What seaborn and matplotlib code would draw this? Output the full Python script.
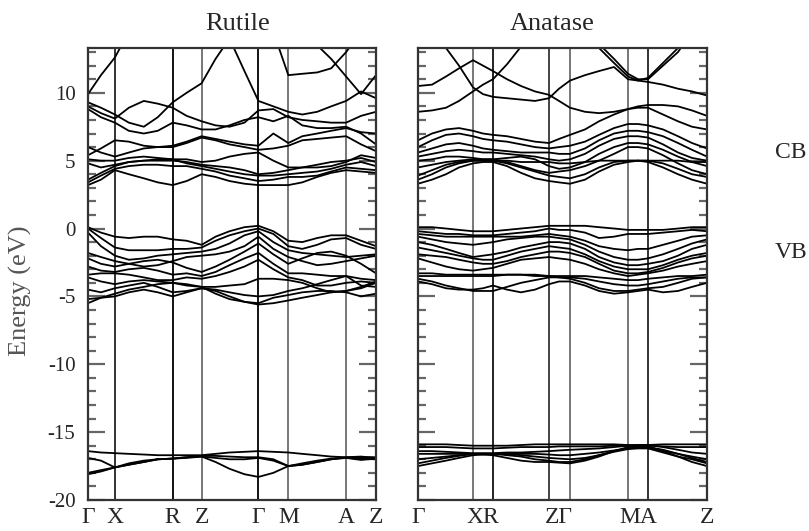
import matplotlib
matplotlib.use("Agg")
import matplotlib.pyplot as plt
import numpy as np
import pandas as pd
import seaborn as sns
from matplotlib.ticker import MultipleLocator

sns.set_theme(style="white")
plt.rcParams["font.family"] = ["Liberation Serif", "DejaVu Serif"]
plt.rcParams["axes.unicode_minus"] = False

# ---------------- k-paths ----------------
rutile_labels = ["Γ", "X", "R", "Z", "Γ", "M", "A", "Z"]
rutile_ticks = [0, 27, 85, 114, 171, 201, 259, 289]
rutile_k = [0, 13, 27, 41, 56, 70, 85, 99, 114, 128, 142, 157, 171,
            186, 201, 215, 230, 244, 259, 274, 289]

anatase_ticks = [0, 55, 75, 131, 152, 210, 230, 289]
anatase_label_pos = [0, 65, 141, 220, 289]
anatase_labels = ["Γ", "XR", "ZΓ", "MA", "Z"]
anatase_k = [0, 14, 28, 41, 55, 65, 75, 89, 103, 117, 131, 141, 152,
             167, 181, 196, 210, 220, 230, 245, 260, 274, 289]

# ---------------- rutile bands (eV) ----------------
rutile_cb = [
    [3.2, 3.6, 4.3, 4.0, 3.7, 3.4, 3.2, 3.5, 4.0, 3.8, 3.5, 3.3, 3.2, 3.2, 3.2, 3.4, 3.8, 4.1, 4.3, 4.2, 4.1],
    [3.4, 3.9, 4.4, 4.6, 4.7, 4.7, 4.6, 4.6, 4.4, 4.2, 3.9, 3.7, 3.5, 3.6, 3.8, 3.8, 3.9, 4.2, 4.5, 4.4, 4.3],
    [3.6, 4.1, 4.6, 4.9, 5.0, 5.1, 5.1, 4.8, 4.6, 4.4, 4.2, 4.0, 3.9, 3.9, 4.0, 4.1, 4.2, 4.4, 4.7, 4.9, 4.6],
    [4.8, 4.5, 4.7, 4.9, 5.0, 5.0, 5.0, 4.9, 4.7, 4.6, 4.5, 4.3, 4.0, 4.1, 4.3, 4.5, 4.7, 4.9, 5.0, 5.2, 4.9],
    [5.1, 5.0, 5.0, 5.2, 5.3, 5.2, 5.1, 5.1, 4.9, 5.0, 5.3, 5.5, 5.6, 5.0, 4.5, 4.5, 4.5, 4.6, 4.9, 5.4, 5.2],
    [5.4, 5.9, 6.5, 6.4, 6.1, 6.0, 6.0, 6.3, 6.7, 6.5, 6.2, 6.0, 5.8, 5.9, 6.1, 6.5, 6.6, 6.7, 6.8, 6.2, 5.7],
    [6.0, 5.6, 5.3, 5.6, 5.9, 6.0, 6.1, 6.4, 6.8, 6.6, 6.4, 6.2, 6.1, 7.0, 6.3, 6.8, 7.0, 7.2, 7.4, 7.1, 7.0],
    [8.8, 8.2, 7.8, 7.2, 7.0, 7.2, 7.8, 7.6, 7.3, 7.3, 7.6, 8.0, 8.2, 7.9, 8.3, 7.6, 7.4, 7.4, 7.5, 7.0, 6.2],
    [9.0, 8.5, 8.1, 8.9, 9.4, 9.2, 8.9, 8.3, 7.9, 7.6, 7.5, 7.8, 8.7, 8.8, 8.2, 8.0, 7.9, 7.8, 7.8, 8.3, 8.6],
    [9.3, 8.9, 8.4, 7.8, 7.5, 8.2, 9.3, 10.0, 10.7, 12.5, 14.0, 11.6, 9.4, 9.0, 8.6, 8.4, 8.6, 9.0, 9.4, 10.1, 9.6],
    [9.9, 11.3, 12.6, 14.5, 16, 16, 16, 16, 16, 16, 16, 16, 16, 14.5, 11.3, 11.4, 11.5, 11.8, 13.0, 14.5, 16],
    [15, 15, 15, 15, 15, 15, 15, 15, 15, 15, 15, 15, 15, 15, 15, 14.5, 13.5, 12.5, 11.2, 9.9, 11.3],
]
rutile_vb = [
    [0.1, -0.3, -0.6, -0.7, -0.6, -0.6, -0.8, -0.9, -1.2, -0.6, -0.2, 0.1, 0.2, -0.2, -0.9, -1.0, -0.7, -0.5, -0.5, -0.9, -1.3],
    [0.0, -0.7, -1.4, -1.6, -1.6, -1.6, -1.5, -1.5, -1.4, -0.9, -0.5, -0.2, 0.0, -0.4, -1.3, -1.5, -1.2, -0.8, -0.7, -1.2, -1.5],
    [-0.3, -1.3, -2.0, -2.3, -2.2, -2.0, -1.9, -1.8, -1.7, -1.5, -1.1, -0.5, -0.2, -1.0, -1.6, -1.8, -1.9, -2.0, -2.1, -2.0, -1.9],
    [-1.8, -2.1, -2.4, -2.6, -2.8, -2.7, -2.4, -2.1, -2.0, -1.9, -1.7, -1.3, -0.6, -1.5, -2.1, -2.4, -2.7, -2.6, -2.4, -2.2, -2.0],
    [-2.2, -2.6, -2.8, -2.6, -2.4, -2.3, -2.5, -2.9, -3.2, -2.8, -2.3, -1.7, -1.1, -1.9, -2.6, -2.2, -1.8, -1.7, -2.0, -2.6, -3.3],
    [-2.8, -3.1, -3.2, -3.0, -2.9, -3.1, -3.4, -3.3, -3.5, -3.2, -2.7, -2.2, -1.8, -2.6, -3.3, -3.3, -3.4, -3.5, -3.5, -3.7, -3.8],
    [-3.4, -3.3, -3.3, -3.4, -3.6, -3.8, -3.8, -3.6, -3.7, -3.5, -3.2, -2.8, -2.3, -3.0, -3.6, -3.8, -4.2, -4.2, -4.0, -3.9, -4.0],
    [-3.6, -3.9, -4.1, -3.9, -3.8, -3.9, -4.0, -4.2, -4.3, -4.3, -4.2, -4.1, -3.7, -3.7, -3.8, -4.0, -4.4, -4.7, -4.6, -4.3, -3.9],
    [-4.5, -4.7, -4.4, -4.2, -4.0, -4.3, -4.7, -4.6, -4.4, -4.5, -4.7, -4.9, -5.0, -4.9, -4.6, -4.4, -4.1, -3.8, -3.5, -4.2, -4.3],
    [-5.2, -5.1, -5.0, -4.7, -4.5, -4.7, -5.0, -4.7, -4.4, -4.6, -5.0, -5.4, -5.6, -5.5, -5.3, -5.1, -4.9, -4.7, -4.6, -4.4, -4.0],
    [-5.5, -5.1, -4.8, -4.5, -4.3, -4.1, -4.0, -4.1, -4.3, -4.8, -5.2, -5.4, -5.5, -5.1, -4.9, -4.7, -4.6, -4.6, -4.7, -5.0, -4.8],
]
rutile_o2s = [
    [-16.4, -16.5, -16.55, -16.6, -16.65, -16.7, -16.7, -16.7, -16.7, -16.6, -16.5, -16.45, -16.4, -16.45, -16.5, -16.6, -16.7, -16.8, -16.85, -16.85, -16.85],
    [-16.9, -17.1, -17.6, -17.4, -17.2, -17.0, -16.95, -16.85, -16.75, -16.75, -16.8, -16.85, -16.85, -17.0, -17.5, -17.4, -17.2, -17.0, -16.85, -16.8, -16.9],
    [-18.1, -17.9, -17.6, -17.4, -17.2, -17.0, -16.95, -16.9, -16.8, -17.2, -17.7, -18.1, -18.3, -18.0, -17.5, -17.4, -17.2, -17.0, -16.9, -16.95, -17.0],
    [-18.0, -17.8, -17.6, -17.3, -17.1, -17.0, -16.95, -16.85, -16.8, -16.9, -17.0, -17.0, -16.9, -17.1, -17.5, -17.3, -17.1, -16.95, -16.9, -17.05, -16.95],
]

# ---------------- anatase bands (eV) ----------------
anatase_cb = [
    [3.3, 3.6, 4.0, 4.5, 4.8, 4.9, 4.9, 4.6, 4.1, 3.7, 3.5, 3.4, 3.3, 3.6, 4.2, 4.7, 4.9, 5.0, 4.9, 4.5, 4.0, 3.6, 3.3],
    [3.6, 4.0, 4.5, 4.8, 5.0, 5.0, 5.0, 4.8, 4.5, 4.2, 3.9, 3.8, 3.7, 4.0, 4.5, 4.9, 5.0, 5.0, 5.0, 4.8, 4.4, 4.0, 3.8],
    [3.9, 4.3, 4.7, 4.9, 5.0, 5.0, 5.0, 5.0, 4.9, 4.9, 4.9, 4.8, 4.8, 4.9, 5.0, 5.0, 5.0, 5.0, 5.0, 5.0, 5.0, 4.9, 4.9],
    [4.5, 4.7, 4.9, 5.0, 5.1, 5.1, 5.1, 4.9, 4.6, 4.3, 4.1, 4.2, 4.3, 4.6, 5.0, 5.5, 6.0, 6.0, 5.9, 5.4, 4.8, 4.3, 4.0],
    [5.0, 5.1, 5.3, 5.3, 5.2, 5.1, 5.1, 5.2, 5.3, 5.1, 4.6, 4.4, 4.5, 4.9, 5.5, 6.0, 6.3, 6.3, 6.2, 5.8, 5.3, 4.9, 4.6],
    [5.3, 5.5, 5.7, 5.8, 5.7, 5.6, 5.6, 5.5, 5.4, 5.3, 5.1, 5.0, 5.1, 5.5, 6.1, 6.6, 6.8, 6.8, 6.7, 6.2, 5.6, 5.2, 5.0],
    [5.6, 5.9, 6.2, 6.3, 6.1, 5.9, 5.8, 5.7, 5.6, 5.6, 5.6, 5.5, 5.5, 5.9, 6.5, 7.0, 7.2, 7.2, 7.1, 6.8, 6.3, 5.8, 5.3],
    [6.0, 6.5, 6.9, 7.0, 6.8, 6.6, 6.5, 6.4, 6.2, 6.0, 5.9, 6.0, 6.1, 6.4, 6.9, 7.4, 7.7, 7.7, 7.6, 7.3, 6.8, 6.3, 5.9],
    [6.5, 7.0, 7.3, 7.4, 7.2, 7.0, 6.9, 6.8, 6.6, 6.4, 6.3, 6.6, 6.9, 7.3, 7.9, 8.4, 8.8, 8.9, 8.9, 8.4, 7.9, 7.5, 7.3],
    [8.6, 8.7, 8.9, 9.4, 10.1, 10.6, 11.0, 12.1, 13.4, 15, 15, 15, 15, 14.5, 13.3, 12.2, 11.2, 10.9, 10.8, 10.6, 10.3, 10.1, 9.8],
    [15, 14.5, 13.3, 12.0, 10.4, 9.9, 9.7, 9.6, 9.5, 9.4, 9.6, 10.3, 10.9, 11.3, 11.6, 11.9, 11.0, 10.9, 11.1, 12.2, 13.3, 15, 15],
    [10.5, 10.6, 11.2, 11.8, 12.4, 12.0, 11.6, 11.0, 10.5, 10.1, 9.85, 9.4, 8.9, 8.6, 8.5, 8.6, 8.8, 9.0, 9.1, 9.1, 9.0, 8.7, 8.3],
    [15, 15, 15, 15, 15, 15, 15, 15, 15, 15, 15, 15, 15, 15, 13.6, 12.5, 11.4, 11.0, 11.0, 12.0, 13.0, 14.5, 15],
]
anatase_vb = [
    [0.1, 0.1, 0.0, -0.1, -0.2, -0.2, -0.2, -0.1, 0.0, 0.1, 0.2, 0.2, 0.2, 0.2, 0.1, 0.0, -0.1, -0.1, -0.1, -0.1, 0.0, 0.1, 0.1],
    [-0.2, -0.3, -0.4, -0.4, -0.5, -0.5, -0.5, -0.4, -0.3, -0.2, 0.0, -0.1, -0.1, -0.3, -0.7, -0.6, -0.4, -0.4, -0.4, -0.3, -0.2, -0.1, -0.2],
    [-0.4, -0.5, -0.6, -0.6, -0.6, -0.6, -0.6, -0.6, -0.6, -0.5, -0.4, -0.5, -0.6, -0.9, -1.3, -1.5, -1.6, -1.5, -1.5, -1.2, -0.9, -0.6, -0.5],
    [-0.6, -0.8, -1.0, -1.1, -1.2, -1.1, -1.0, -0.8, -0.7, -0.6, -0.6, -0.7, -0.8, -1.2, -1.7, -2.1, -2.3, -2.3, -2.2, -1.9, -1.5, -1.1, -0.8],
    [-1.0, -1.2, -1.5, -1.8, -2.1, -2.0, -1.9, -1.7, -1.4, -1.2, -1.0, -1.0, -1.1, -1.5, -2.1, -2.5, -2.7, -2.7, -2.6, -2.4, -2.0, -1.5, -1.2],
    [-1.4, -1.6, -1.8, -2.0, -2.2, -2.3, -2.3, -2.0, -1.7, -1.5, -1.3, -1.4, -1.5, -1.9, -2.4, -2.8, -3.0, -3.0, -3.0, -2.7, -2.3, -2.0, -1.8],
    [-1.9, -2.0, -2.1, -2.3, -2.5, -2.6, -2.6, -2.4, -2.1, -1.9, -1.7, -1.7, -1.8, -2.1, -2.6, -3.1, -3.3, -3.3, -3.2, -2.9, -2.5, -2.2, -2.0],
    [-2.2, -2.5, -2.8, -3.0, -3.1, -3.0, -2.9, -2.6, -2.3, -2.2, -2.1, -2.2, -2.3, -2.6, -3.0, -3.3, -3.5, -3.4, -3.3, -3.1, -2.8, -2.6, -2.4],
    [-3.3, -3.3, -3.4, -3.4, -3.4, -3.4, -3.4, -3.4, -3.4, -3.5, -3.5, -3.5, -3.5, -3.5, -3.6, -3.7, -3.8, -3.8, -3.7, -3.6, -3.5, -3.5, -3.4],
    [-3.5, -3.5, -3.5, -3.5, -3.5, -3.5, -3.5, -3.4, -3.4, -3.4, -3.5, -3.6, -3.6, -3.7, -3.9, -4.1, -4.2, -4.2, -4.1, -3.9, -3.7, -3.6, -3.6],
    [-3.7, -3.9, -4.2, -4.4, -4.6, -4.6, -4.6, -4.3, -4.0, -3.8, -3.6, -3.6, -3.7, -4.0, -4.4, -4.6, -4.6, -4.5, -4.4, -4.3, -4.0, -3.7, -3.6],
    [-3.9, -4.1, -4.4, -4.5, -4.5, -4.4, -4.2, -4.5, -4.7, -4.5, -4.1, -3.9, -3.9, -4.2, -4.6, -4.8, -4.7, -4.6, -4.5, -4.7, -4.6, -4.3, -4.0],
]
anatase_o2s = [
    [-15.9, -15.9, -15.9, -15.95, -16.0, -16.0, -16.0, -16.0, -15.95, -15.9, -15.9, -15.9, -15.9, -15.9, -15.9, -15.9, -15.95, -15.95, -15.95, -15.9, -15.9, -15.9, -15.9],
    [-16.1, -16.1, -16.1, -16.15, -16.2, -16.2, -16.2, -16.15, -16.1, -16.1, -16.1, -16.05, -16.05, -16.05, -16.05, -16.0, -16.0, -16.0, -16.0, -16.05, -16.1, -16.1, -16.1],
    [-16.4, -16.4, -16.45, -16.5, -16.55, -16.55, -16.55, -16.5, -16.5, -16.45, -16.4, -16.35, -16.3, -16.25, -16.2, -16.1, -16.0, -15.95, -15.95, -16.1, -16.3, -16.5, -16.6],
    [-16.6, -16.6, -16.6, -16.6, -16.6, -16.65, -16.7, -16.9, -17.1, -17.2, -17.2, -17.25, -17.3, -17.1, -16.8, -16.4, -16.1, -16.05, -16.05, -16.4, -16.8, -17.2, -17.5],
    [-17.0, -16.9, -16.8, -16.7, -16.6, -16.6, -16.6, -16.7, -16.8, -17.0, -17.1, -17.2, -17.2, -17.0, -16.7, -16.4, -16.2, -16.1, -16.1, -16.3, -16.6, -16.9, -17.2],
    [-17.3, -17.1, -16.9, -16.75, -16.6, -16.6, -16.6, -16.6, -16.7, -16.8, -16.9, -16.95, -17.0, -16.9, -16.7, -16.45, -16.25, -16.2, -16.2, -16.5, -16.8, -17.0, -17.3],
    [-17.5, -17.3, -17.1, -16.9, -16.7, -16.65, -16.6, -16.6, -16.6, -16.6, -16.65, -16.7, -16.7, -16.6, -16.5, -16.35, -16.2, -16.15, -16.15, -16.35, -16.6, -16.8, -17.0],
]


def band_frame(kpts, groups):
    rows = []
    n = 0
    for group in groups:
        for band in group:
            for k, e in zip(kpts, band):
                rows.append((n, k, e))
            n += 1
    return pd.DataFrame(rows, columns=["band", "k", "E"])


def draw_panel(ax, df, ticks, label_pos, labels, line_colors, show_ylabels):
    for x, c in zip(ticks[1:-1], line_colors):
        ax.axvline(x, color=c, lw=1.4, zorder=1)
    sns.lineplot(data=df, x="k", y="E", units="band", estimator=None,
                 color="black", lw=1.3, ax=ax, legend=False, sort=False,
                 zorder=2)
    ax.set_xlim(ticks[0], ticks[-1])
    ax.set_ylim(-20, 13.3)
    ax.set_xticks(label_pos)
    ax.set_xticklabels(labels)
    ax.tick_params(axis="x", length=0, pad=5, labelsize=17)
    ax.yaxis.set_major_locator(MultipleLocator(5))
    ax.yaxis.set_minor_locator(MultipleLocator(1))
    ax.tick_params(axis="y", which="major", direction="in", length=12,
                   width=1.6, color="#666", left=True, right=True,
                   labelsize=15, labelleft=show_ylabels, pad=9)
    ax.tick_params(axis="y", which="minor", direction="in", length=6,
                   width=1.6, color="#666", left=True, right=True)
    for s in ax.spines.values():
        s.set_linewidth(1.6)
        s.set_color("#333")
    ax.set_xlabel("")
    ax.set_ylabel("")


fig = plt.figure(figsize=(8.09, 5.31), dpi=100)
ax_r = fig.add_axes([88 / 809, 31 / 531, 288 / 809, 452 / 531])
ax_a = fig.add_axes([418 / 809, 31 / 531, 289 / 809, 452 / 531])

rutile_df = band_frame(rutile_k, [rutile_cb, rutile_vb, rutile_o2s])
anatase_df = band_frame(anatase_k, [anatase_cb, anatase_vb, anatase_o2s])

draw_panel(ax_r, rutile_df, rutile_ticks, rutile_ticks, rutile_labels,
           ["#333", "#111", "#777", "#111", "#777", "#777"], True)
draw_panel(ax_a, anatase_df, anatase_ticks, anatase_label_pos, anatase_labels,
           ["#777", "#222", "#444", "#777", "#777", "#333"], False)

fig.text(238 / 809, 1 - 24 / 531, "Rutile", fontsize=19, ha="center", va="center")
fig.text(552 / 809, 1 - 24 / 531, "Anatase", fontsize=19, ha="center", va="center")
fig.text(20 / 809, 1 - 291 / 531, "Energy (eV)", rotation=90, fontsize=19,
         color="#555", ha="center", va="center")
fig.text(775 / 809, 1 - 152 / 531, "CB", fontsize=17, ha="left", va="center")
fig.text(775 / 809, 1 - 253 / 531, "VB", fontsize=17, ha="left", va="center")

fig.savefig("out.png", dpi=100)
